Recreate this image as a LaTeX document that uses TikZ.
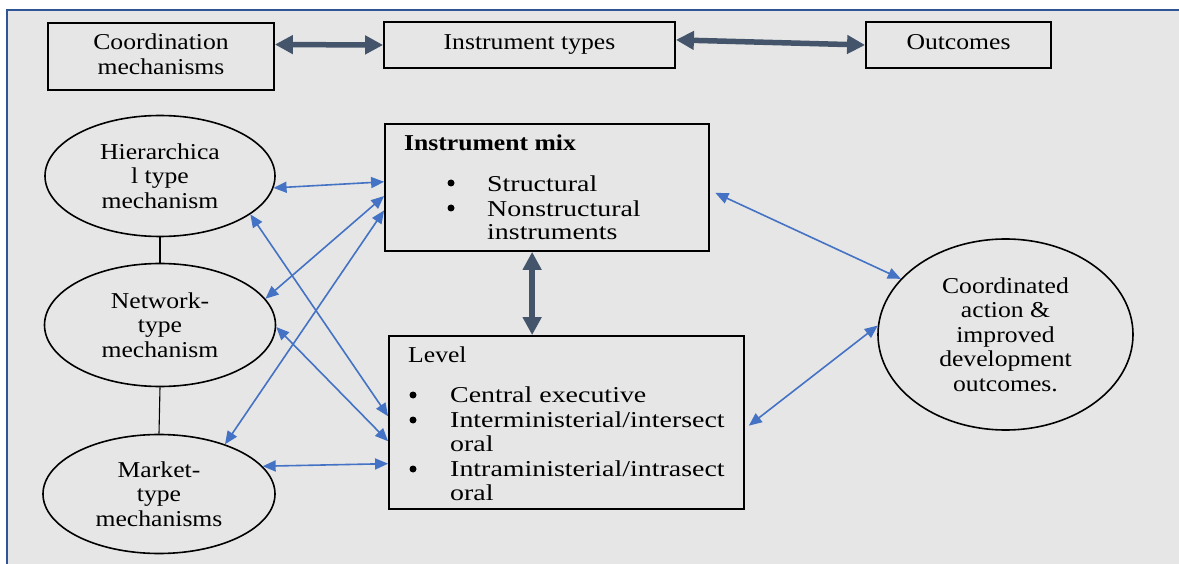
\documentclass[tikz,border=0pt]{standalone}
\usepackage{fontspec}
\setmainfont{Liberation Serif}[FakeStretch=1.13]
\newfontfamily\listfont{Liberation Serif}[FakeStretch=1.23]
\usetikzlibrary{arrows.meta,shapes.geometric}

\definecolor{panelgray}{HTML}{E6E6E6}
\definecolor{frameblue}{HTML}{2F5597}
\definecolor{linkblue}{HTML}{4472C4}
\definecolor{slate}{HTML}{44546A}

\begin{document}
\begin{tikzpicture}[x=1pt,y=-1pt,
  every node/.style={font=\fontsize{22.7}{24.5}\selectfont, inner sep=0pt},
  box/.style={draw=black, line width=1.8pt, rectangle},
  oval/.style={draw=black, line width=1.6pt, ellipse, align=center},
  bigarrow/.style={draw=slate, line width=5.5pt,
    {Triangle[length=18pt,width=18pt]}-{Triangle[length=18pt,width=18pt]}},
  link/.style={draw=linkblue, line width=1.6pt,
    {Triangle[length=13pt,width=11pt]}-{Triangle[length=13pt,width=11pt]}},
  tie/.style={draw=black, line width=1.1pt},
  itemtext/.style={anchor=base west, font=\listfont\fontsize{22.7}{24.5}\selectfont},
  dot/.style={circle, fill=black, minimum size=7pt}]

% panel and frame
\useasboundingbox (0,0) rectangle (1179,564);
\fill[panelgray] (7,10) rectangle (1179,564);
\draw[frameblue, line width=1.3pt] (7,564) -- (7,10) -- (1179,10);

% header row
\node[box, minimum width=226pt, minimum height=67pt, align=center, text depth=4.5pt]
  (cm) at (161,56.5) {Coordination\\mechanisms};
\node[box, minimum width=291pt, minimum height=46pt, text height=15.5pt, text depth=6.5pt]
  (it) at (529.5,45) {Instrument types};
\node[box, minimum width=185pt, minimum height=46pt, text height=15.5pt, text depth=6.5pt]
  (out) at (958.5,45) {Outcomes};

% mechanisms
\node[oval, minimum width=230pt, minimum height=121pt] (hier) at (160,176)
  {Hierarchica\\l type\\mechanism};
\node[oval, minimum width=231pt, minimum height=123pt] (net) at (160,325)
  {Network-\\type\\mechanism};
\node[oval, minimum width=232pt, minimum height=119pt] (mkt) at (159,494)
  {Market-\\type\\mechanisms};

% instrument mix box
\node[box, minimum width=324pt, minimum height=127pt] (mix) at (547,187.5) {};
\node[anchor=base west, font=\fontsize{22.7}{24.5}\selectfont\bfseries] (mixhead) at (404,150.5) {Instrument mix};
\node[dot] (mixdotA) at (451,183) {};
\node[dot] (mixdotB) at (451,208) {};
\node[itemtext] (mixA) at (487,191.7) {Structural};
\node[itemtext] (mixB) at (487,216.7) {Nonstructural};
\node[itemtext] (mixC) at (487,239.3) {instruments};

% level box
\node[box, minimum width=355pt, minimum height=173pt] (lev) at (566.5,422.5) {};
\node[anchor=base west] (levhead) at (408,362.3) {Level};
\node[dot] (levdotA) at (413,395) {};
\node[dot] (levdotB) at (413,420) {};
\node[dot] (levdotC) at (413,469) {};
\node[itemtext] (levA) at (450,402) {Central executive};
\node[itemtext] (levB) at (450,427) {Interministerial/intersect};
\node[itemtext] (levBb) at (450,451) {oral};
\node[itemtext] (levC) at (450,476) {Intraministerial/intrasect};
\node[itemtext] (levCb) at (450,500) {oral};

% outcome
\node[oval, minimum width=255pt, minimum height=191pt] (coord) at (1005.5,334.5)
  {Coordinated\\action \&\\improved\\development\\outcomes.};

% header arrows
\draw[bigarrow] (cm.6.3) -- (it.west);
\draw[bigarrow] (it.2) -- (out.west);
\draw[bigarrow] (mix.257.6) -- (mix.257.6 |- lev.north);

% links between mechanisms
\draw[tie] (hier.south) -- (net.north);
\draw[tie] (net.south) -- (mkt.north);

% mechanism links
\draw[link] (hier.-6.2) -- (mix.178.4);
\draw[link] (net.14.7) -- (mix.183.7);
\draw[link] (mkt.37.9) -- (mix.188.8);
\draw[link] (hier.-23) -- (lev.178.2);
\draw[link] (net.-1) -- (lev.186.2);
\draw[link] (mkt.15.4) -- (lev.193.8);

% outcome links
\draw[link, shorten <=6pt] (mix.-1.2) -- (coord.152.9);
\draw[link, shorten <=5pt] (lev.-2.7) -- (coord.176.2);
\end{tikzpicture}
\end{document}
